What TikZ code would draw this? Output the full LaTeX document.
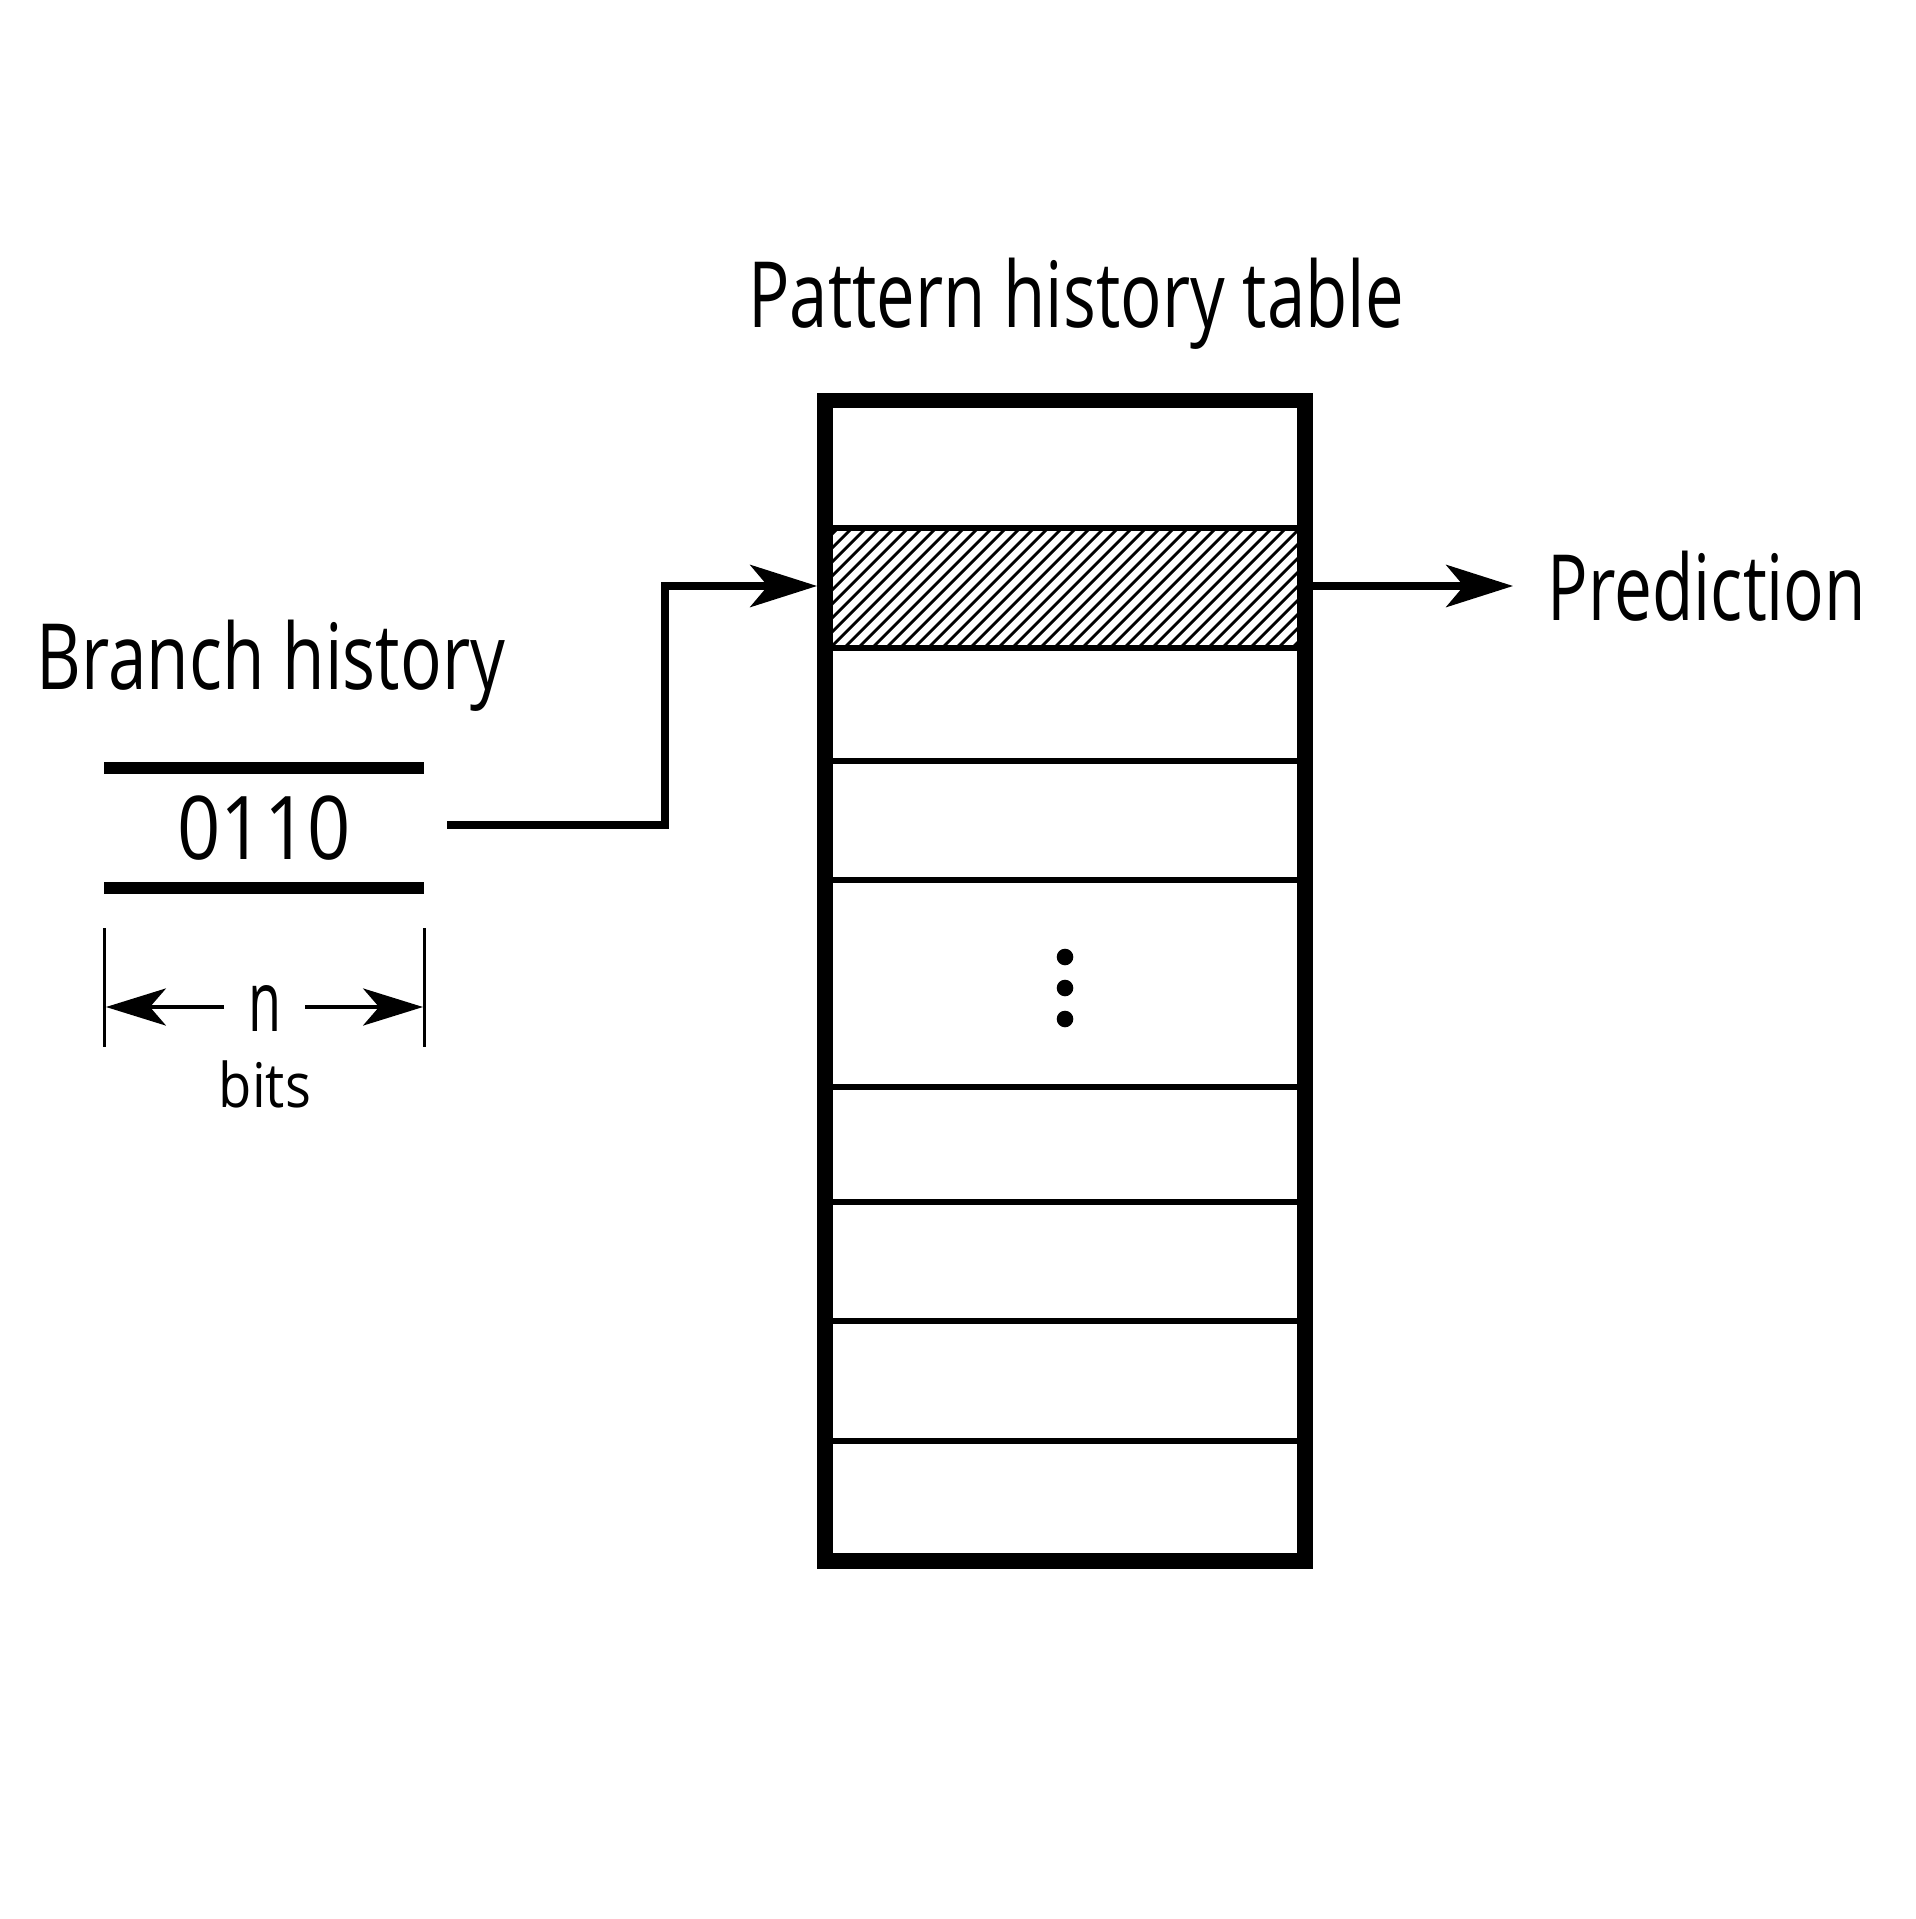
\documentclass[tikz,border=0pt]{standalone}
\usepackage{fontspec}
\setmainfont{Open Sans}
\usetikzlibrary{arrows.meta}
\begin{document}
\begin{tikzpicture}[x=0.01cm,y=-0.01cm,
  txt/.style={inner sep=0pt,anchor=base},
  tborder/.style={line width=4.4pt},
  rowline/.style={line width=1.7pt},
  conn/.style={line width=2pt,-{Stealth[length=19pt,width=12pt,inset=5pt]}},
  bar/.style={line width=3.4pt},
  tickline/.style={line width=0.95pt},
  dimarrow/.style={line width=1.4pt,-{Stealth[length=17pt,width=10.5pt,inset=4.5pt]}},
  hatchline/.style={line width=0.8pt}]
\useasboundingbox (0,0) rectangle (1915,1919);

% titles
\node[txt] (title) at (1076,328) {\resizebox{6.55cm}{\height}{\fontsize{26}{30}\selectfont Pattern history table}};
\node[txt] (bhist) at (271,689) {\resizebox{4.68cm}{\height}{\fontsize{26}{30}\selectfont Branch history}};
\node[txt] (pred) at (1707,620) {\resizebox{3.18cm}{\height}{\fontsize{26}{30}\selectfont Prediction}};

% branch history register
\node[txt] (val) at (264,859) {\resizebox{1.73cm}{\height}{\fontsize{25}{30}\selectfont 0110}};
\coordinate (bt1) at (104,768); \coordinate (bt2) at (424,768);
\coordinate (bb1) at (104,888); \coordinate (bb2) at (424,888);
\draw[bar] (bt1) -- (bt2);
\draw[bar] (bb1) -- (bb2);

% n bits dimension
\coordinate (tl1) at (104.5,928); \coordinate (tl2) at (104.5,1047);
\coordinate (tr1) at (424.5,928); \coordinate (tr2) at (424.5,1047);
\draw[tickline] (tl1) -- (tl2);
\draw[tickline] (tr1) -- (tr2);
\node[txt] (nlab) at (265,1031) {\resizebox{0.33cm}{\height}{\fontsize{24}{28}\selectfont n}};
\node[txt] (bits) at (265,1107) {\resizebox{0.92cm}{\height}{\fontsize{17.5}{20}\selectfont bits}};
\coordinate (la) at (224,1007); \coordinate (lt) at (106,1007);
\coordinate (ra) at (305,1007); \coordinate (rt) at (423,1007);
\draw[dimarrow] (la) -- (lt);
\draw[dimarrow] (ra) -- (rt);

% pattern history table
\begin{scope}
\clip (832,531) rectangle (1297,645);
\foreach \i in {-140,-126,...,480} \draw[hatchline] (832+\i,646) -- ++(130,-130);
\end{scope}
\foreach \y in {528,648,761,880,1087,1202,1321,1441}
  \draw[rowline] (825,\y) -- (1305,\y);
\node[draw,tborder,minimum width=4.8cm,minimum height=11.595cm,inner sep=0pt] (pht) at (1065,980.75) {};
\fill (1065,957) circle (8.3);
\fill (1065,988) circle (8.3);
\fill (1065,1019) circle (8.3);

% connectors
\coordinate (src) at (447,825);
\coordinate (hin) at (817,586);
\coordinate (hout) at (1305,586);
\coordinate (ptip) at (1513,586);
\draw[conn] (src) -- (665,825) |- (hin);
\draw[conn] (hout) -- (ptip);
\end{tikzpicture}
\end{document}
